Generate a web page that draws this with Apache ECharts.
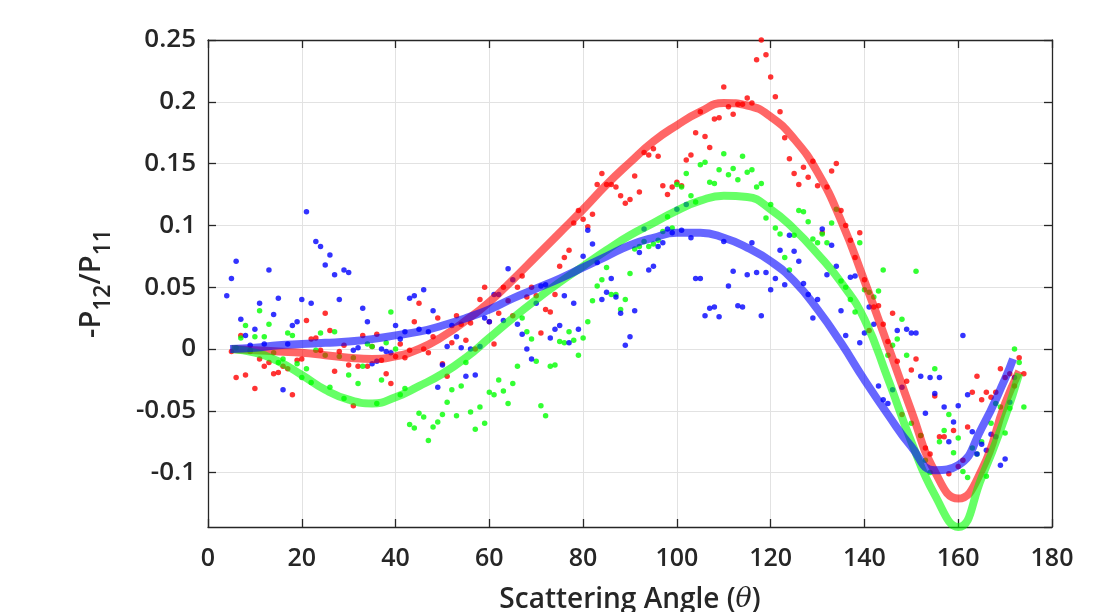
<!DOCTYPE html>
<html>
<head>
<meta charset="utf-8">
<script src="https://cdn.jsdelivr.net/npm/echarts@6/dist/echarts.min.js"></script>
<style>
html,body{margin:0;padding:0;background:#fff;}
#chart{width:1119px;height:612px;}
</style>
</head>
<body>
<div id="chart"></div>
<script>
// ---- axis ticks ----
const xTicks = [0, 20, 40, 60, 80, 100, 120, 140, 160, 180];
const yRange = [-0.144, 0.25];

// ---- measured points (one per degree, starting at the given angle) ----
const blueStart = 4;
const blueValues = [
 0.043,0.057,0.071,0.024,0.011,0.003,0.016,0.037,0.004,0.064,
 0.028,0.041,-0.033,0.004,0.019,0.022,0.040,0.111,0.037,0.087,
 0.083,0.068,0.076,0.060,0.040,0.064,0.062,-0.001,0.001,0.033,
 0.022,-0.012,-0.010,0.000,-0.002,-0.003,0.019,0.008,0.014,0.041,
 0.043,0.016,0.048,0.014,0.031,-0.031,-0.013,0.002,0.019,0.010,
 0.001,-0.022,0.000,-0.021,0.002,0.025,0.022,0.044,0.044,0.023,
 0.065,0.056,0.020,0.012,0.000,-0.008,0.037,0.051,0.052,0.009,
 0.016,0.019,0.043,0.005,0.037,0.016,0.075,0.096,0.085,0.070,
 0.040,0.046,0.057,0.042,0.029,0.003,0.010,0.031,0.078,0.097,
 0.064,0.067,0.083,0.086,0.097,0.094,0.113,0.096,0.117,0.090,
 0.057,0.057,0.027,0.033,0.034,0.026,0.087,0.051,0.063,0.035,
 0.034,0.060,0.086,0.062,0.027,0.062,0.048,0.057,0.080,0.052,
 0.092,0.079,0.071,0.053,0.044,0.025,0.040,0.097,0.060,0.084,
 0.067,0.031,0.011,0.058,0.059,0.005,0.013,0.034,0.020,-0.030,
 -0.041,-0.044,-0.033,0.015,-0.031,0.016,0.013,0.013,-0.022,-0.052,
 -0.023,-0.036,-0.023,-0.047,-0.075,-0.059,-0.046,0.011,-0.037,-0.067,
 -0.085,-0.077,-0.082,-0.069,-0.071,-0.094,-0.089,-0.043,-0.023
];
const redStart = 5;
const redValues = [
 -0.002,-0.023,0.011,-0.021,-0.002,-0.032,-0.008,-0.014,-0.011,-0.020,
 -0.019,-0.014,-0.016,-0.037,-0.009,-0.008,0.023,0.008,0.009,-0.001,
 0.029,0.015,-0.018,-0.002,0.003,-0.013,-0.046,-0.014,0.011,-0.014,
 0.002,0.012,-0.009,-0.020,-0.028,-0.006,0.004,-0.007,-0.001,0.022,
 0.037,0.000,-0.003,0.010,0.025,-0.012,-0.022,0.005,0.027,0.020,
 0.007,0.021,0.000,0.040,0.050,0.022,0.004,0.029,0.050,0.039,
 0.027,0.050,0.059,0.042,0.050,0.043,0.013,0.032,0.030,0.044,
 0.067,0.074,0.080,0.102,0.112,0.105,0.099,0.109,0.133,0.142,
 0.133,0.133,0.131,0.124,0.118,0.121,0.140,0.127,0.159,0.157,
 0.162,0.156,0.132,0.125,0.131,0.135,0.132,0.153,0.157,0.175,
 0.192,0.172,0.163,0.186,0.187,0.212,0.196,0.190,0.198,0.198,
 0.203,0.199,0.234,0.250,0.238,0.220,0.204,0.192,0.171,0.154,
 0.142,0.133,0.147,0.139,0.152,0.132,0.094,0.131,0.144,0.150,
 0.112,0.100,0.088,0.074,0.094,0.056,0.015,0.034,0.035,0.020,
 0.006,0.029,-0.010,-0.053,-0.026,-0.017,-0.008,-0.070,-0.080,-0.085,
 -0.038,-0.071,-0.071,-0.101,-0.066,-0.095,-0.090,-0.063,-0.035,-0.022,
 -0.041,-0.035,-0.039,-0.035,-0.016,-0.023,-0.020,-0.030,-0.007,-0.020
];
const greenStart = 6;
const greenValues = [
 0.001,0.009,0.019,-0.001,0.010,0.031,0.010,0.020,-0.003,-0.011,
 -0.008,0.013,0.011,-0.012,-0.023,-0.016,-0.027,-0.001,0.013,-0.005,
 -0.031,0.014,-0.006,-0.040,-0.021,-0.007,-0.028,-0.014,0.004,0.002,
 -0.044,-0.025,0.005,0.030,0.000,-0.037,-0.032,-0.061,-0.064,-0.052,
 -0.055,-0.074,-0.063,-0.059,-0.053,-0.043,-0.033,-0.054,-0.030,-0.011,
 -0.051,-0.065,-0.047,-0.060,-0.035,-0.037,-0.025,-0.034,-0.044,-0.028,
 -0.014,0.025,0.014,0.008,-0.010,-0.046,-0.054,-0.014,-0.013,0.006,
 0.005,0.014,0.007,-0.005,0.009,0.022,0.039,0.051,0.056,0.066,
 0.044,0.044,0.032,0.040,0.061,0.081,0.083,0.087,0.083,0.085,
 0.088,0.095,0.107,0.098,0.133,0.131,0.142,0.124,0.119,0.149,
 0.151,0.135,0.134,0.145,0.158,0.141,0.146,0.137,0.156,0.143,
 0.145,0.131,0.134,0.106,0.117,0.098,0.093,0.074,0.064,0.092,
 0.112,0.111,0.103,0.089,0.086,0.093,0.086,0.102,0.113,0.055,
 0.050,0.040,0.030,0.086,0.048,0.046,0.042,0.047,0.064,-0.005,
 0.003,0.008,0.024,-0.005,-0.060,0.063,-0.070,-0.090,-0.100,-0.016,
 -0.075,-0.066,-0.053,-0.084,-0.072,-0.099,-0.104,-0.080,-0.085,-0.075,
 -0.103,-0.060,-0.044,-0.047,-0.068,-0.048,0.000,-0.011,-0.047
];

// ---- fitted curves (every 5 degrees) ----
const redFitX = [5,10,15,20,25,30,35,40,45,50,55,60,65,70,75,80,85,90,95,100,105,110,115,120,125,130,135,140,145,150,155,160,165,170,173];
const redFitY = [0,-0.001,-0.002,-0.003,-0.005,-0.007,-0.008,-0.006,0.000,0.010,0.023,0.038,0.056,0.075,0.094,0.113,0.133,0.151,0.168,0.181,0.192,0.199,0.197,0.188,0.170,0.143,0.104,0.055,0.003,-0.050,-0.099,-0.121,-0.098,-0.044,-0.018];
const greenFitX = [5,10,15,20,25,30,35,40,45,50,55,60,65,70,75,80,85,90,95,100,105,110,115,120,125,130,135,140,145,150,155,160,165,170,173];
const greenFitY = [0,-0.003,-0.010,-0.021,-0.033,-0.041,-0.044,-0.039,-0.030,-0.020,-0.007,0.009,0.025,0.040,0.054,0.067,0.080,0.092,0.102,0.112,0.120,0.124,0.123,0.113,0.097,0.077,0.054,0.024,-0.024,-0.075,-0.118,-0.144,-0.104,-0.055,-0.020];
const blueFitX = [4.7,10,15,20,25,30,35,40,45,50,55,60,65,70,75,80,85,90,95,100,105,110,115,120,125,130,135,140,145,150,155,160,165,170,171.7];
const blueFitY = [0,0.001,0.003,0.004,0.005,0.006,0.008,0.011,0.014,0.019,0.025,0.032,0.041,0.049,0.057,0.066,0.075,0.084,0.090,0.094,0.094,0.090,0.082,0.071,0.055,0.032,0.005,-0.025,-0.053,-0.079,-0.098,-0.094,-0.064,-0.024,-0.008];

function pts(start, vals){ return vals.map((v,i)=>[start+i, v]); }
function pairs(xs, ys){ return xs.map((x,i)=>[x, ys[i]]); }

const axisColor = '#262626';
const gridColor = '#e2e2e2';
const labelFont = {fontFamily:'Open Sans', fontWeight:600, color:axisColor};

const chart = echarts.init(document.getElementById('chart'), null, {renderer:'canvas'});
chart.setOption({
  animation:false,
  backgroundColor:'#ffffff',
  grid:{left:208, right:67, top:40, bottom:85, containLabel:false, outerBoundsMode:'none'},
  xAxis:[{
    type:'value', min:xTicks[0], max:xTicks[xTicks.length-1], interval:20, position:'bottom',
    axisLine:{show:true, onZero:false, lineStyle:{color:axisColor, width:1.3}},
    axisTick:{show:true, inside:true, length:8, lineStyle:{color:axisColor, width:1.3}},
    axisLabel:Object.assign({fontSize:25, margin:19}, labelFont),
    splitLine:{show:true, lineStyle:{color:gridColor, width:1}},
    name:'{n|Scattering Angle (}{t|θ}{n|)}', nameLocation:'middle', nameGap:59,
    nameTextStyle:{rich:{
      n:{fontFamily:'Open Sans', fontWeight:600, fontSize:28, color:axisColor},
      t:{fontFamily:'DejaVu Serif', fontStyle:'italic', fontSize:27, color:axisColor}
    }}
  },{
    type:'value', min:xTicks[0], max:xTicks[xTicks.length-1], interval:20, position:'top',
    axisLine:{show:true, onZero:false, lineStyle:{color:axisColor, width:1.3}},
    axisTick:{show:true, inside:true, length:8, lineStyle:{color:axisColor, width:1.3}},
    axisLabel:{show:false}, splitLine:{show:false}
  }],
  yAxis:[{
    type:'value', min:yRange[0], max:yRange[1], splitNumber:8, position:'left',
    axisLine:{show:true, onZero:false, lineStyle:{color:axisColor, width:1.3}},
    axisTick:{show:true, inside:true, length:8, lineStyle:{color:axisColor, width:1.3}},
    axisLabel:Object.assign({fontSize:26, margin:12, showMinLabel:false}, labelFont),
    splitLine:{show:true, lineStyle:{color:gridColor, width:1}},
    name:'{n|-P}{s|12}{n|/P}{s|11}', nameLocation:'middle', nameRotate:90, nameGap:93,
    nameTextStyle:{rich:{
      n:{fontFamily:'Open Sans', fontWeight:600, fontSize:29, color:axisColor, verticalAlign:'top', lineHeight:33},
      s:{fontFamily:'Open Sans', fontWeight:600, fontSize:23, color:axisColor, verticalAlign:'bottom', padding:[15,0,0,0]}
    }}
  },{
    type:'value', min:yRange[0], max:yRange[1], splitNumber:8, position:'right',
    axisLine:{show:true, onZero:false, lineStyle:{color:axisColor, width:1.3}},
    axisTick:{show:true, inside:true, length:8, lineStyle:{color:axisColor, width:1.3}},
    axisLabel:{show:false}, splitLine:{show:false}
  }],
  series:[
    {type:'scatter', data:pts(redStart, redValues), symbolSize:5.5, itemStyle:{color:'#ff0000'}, clip:false, z:2},
    {type:'scatter', data:pts(greenStart, greenValues), symbolSize:5.5, itemStyle:{color:'#00ff00'}, clip:false, z:2},
    {type:'scatter', data:pts(blueStart, blueValues), symbolSize:5.5, itemStyle:{color:'#0000ff'}, clip:false, z:2},
    {type:'line', data:pairs(redFitX, redFitY), smooth:0.5, showSymbol:false, clip:true,
      lineStyle:{color:'rgba(255,0,0,0.6)', width:8, cap:'butt'}, z:3},
    {type:'line', data:pairs(greenFitX, greenFitY), smooth:0.5, showSymbol:false, clip:true,
      lineStyle:{color:'rgba(0,255,0,0.6)', width:8, cap:'butt'}, z:3},
    {type:'line', data:pairs(blueFitX, blueFitY), smooth:0.5, showSymbol:false, clip:true,
      lineStyle:{color:'rgba(0,0,255,0.6)', width:8, cap:'butt'}, z:3}
  ]
});
</script>
</body>
</html>
